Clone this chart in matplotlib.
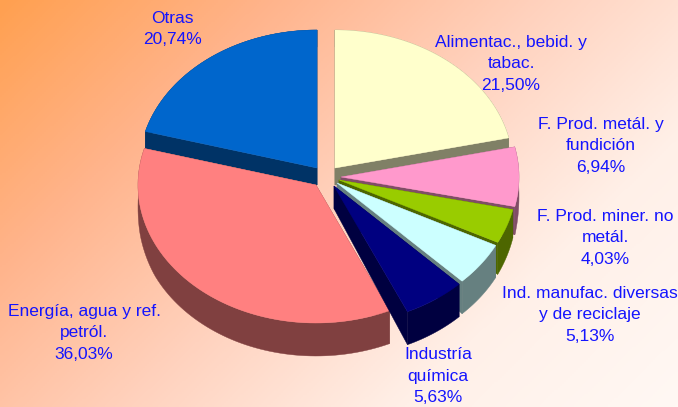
import numpy as np
import matplotlib
matplotlib.use('Agg')
import matplotlib.pyplot as plt
from matplotlib.colors import LinearSegmentedColormap, to_rgb

plt.rcParams['font.family'] = ['Liberation Sans', 'DejaVu Sans']

labels = ['Alimentac., bebid. y\ntabac.', 'F. Prod. metál. y\nfundición',
          'F. Prod. miner. no\nmetál.', 'Ind. manufac. diversas\ny de reciclaje',
          'Industría\nquímica', 'Energía, agua y ref.\npetról.', 'Otras']
values = [21.50, 6.94, 4.03, 5.13, 5.63, 36.03, 20.74]
colors = ['#FFFFCC', '#FF99CC', '#99CC00', '#CCFFFF', '#000080', '#FF8080', '#0066CC']

# layout of the exploded pie, in pixels of the 678x407 picture
apex = [(335, 168), (341, 177), (339, 180), (337, 183), (334, 186), (316, 185), (317, 168)]
text_pos = [(511, 64), (601, 146), (605, 238), (590, 315), (438, 376), (84, 333), (172, 29)]
rx, ry = 178, 138
draw_order = [0, 6, 1, 2, 3, 5, 4]


def depth(y):
    # walls get taller towards the front (perspective of the 3D pie)
    return np.interp(y, [170, 187, 205, 243, 310], [17, 23, 28, 32, 33])


def wall(xs, ys, color):
    x = np.concatenate([xs, xs[::-1]])
    y = np.concatenate([ys, (ys + depth(ys))[::-1]])
    ax.fill(x, y, color=color, lw=0.3, zorder=2)


fig = plt.figure(figsize=(6.78, 4.07), dpi=100)
ax = fig.add_axes([0, 0, 1, 1])

# diagonal background gradient
yy, xx = np.mgrid[0:1:200j, 0:1:340j]
cmap = LinearSegmentedColormap.from_list('bg', ['#FFA050', '#FFB48C', '#FFD2BE', '#FFF0E8', '#FFF8F4'])
ax.imshow((xx * 0.62 + yy * 0.38), cmap=cmap, extent=(0, 678, 407, 0), aspect='auto', vmin=0, vmax=1, zorder=0)

edges = np.radians(np.concatenate([[0], np.cumsum(values)]) * 3.6)

for i in draw_order:
    th = np.linspace(edges[i], edges[i + 1], 80)
    cx, cy = apex[i]
    arc_x = cx + rx * np.sin(th)
    arc_y = cy - ry * np.cos(th)
    dark = tuple(c * 0.5 for c in to_rgb(colors[i]))
    wall(np.array([cx, arc_x[0]]), np.array([cy, arc_y[0]]), dark)
    wall(np.array([cx, arc_x[-1]]), np.array([cy, arc_y[-1]]), dark)
    wall(arc_x, arc_y, dark)
    ax.fill(np.r_[cx, arc_x], np.r_[cy, arc_y], color=colors[i], lw=0.3, zorder=2)

for name, val, (tx, ty) in zip(labels, values, text_pos):
    txt = name + '\n' + ('%.2f%%' % val).replace('.', ',')
    ax.text(tx, ty, txt, color='#1414FF', fontsize=12.5, ha='center', va='center',
            linespacing=1.58, zorder=3)

ax.set_xlim(0, 678)
ax.set_ylim(407, 0)
ax.axis('off')
fig.savefig('out.png', dpi=100)
